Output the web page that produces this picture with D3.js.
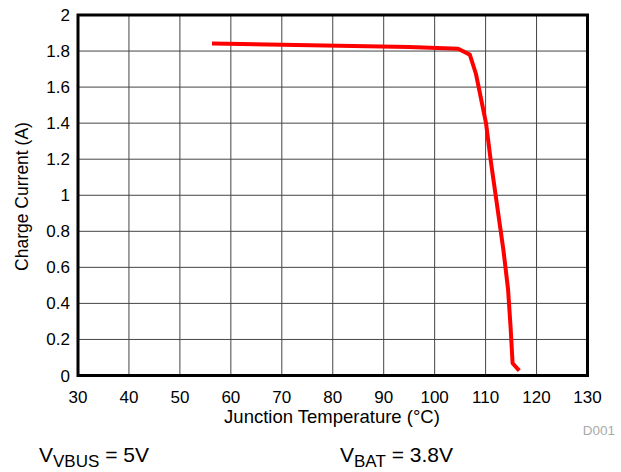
<!DOCTYPE html>
<html>
<head>
<meta charset="utf-8">
<script src="https://cdn.jsdelivr.net/npm/d3@7"></script>
<style>
  body { margin: 0; background: #fff; }
  text { font-family: "Liberation Sans", Arial, sans-serif; }
</style>
</head>
<body>
<svg width="621" height="472"></svg>
<script>
'use strict';

// junction temperature (°C) vs charge current (A)
const temps = [56.3, 95, 104.6, 106.9, 108.1, 110.1, 111, 113.5, 114.4, 114.9, 115.3, 116.6];
const amps = [1.842, 1.822, 1.813, 1.78, 1.674, 1.397, 1.194, 0.695, 0.48, 0.27, 0.068, 0.027];

const xTicks = [30, 40, 50, 60, 70, 80, 90, 100, 110, 120, 130];
const yTicks = [0, 0.2, 0.4, 0.6, 0.8, 1, 1.2, 1.4, 1.6, 1.8, 2];

const svg = d3.select('svg');

const pLeft = 78, pRight = 587.5, pTop = 15, pBottom = 375.5;

const x = d3.scaleLinear().domain([30, 130]).range([pLeft, pRight]);
const y = d3.scaleLinear().domain([0, 2]).range([pBottom, pTop]);

// grid
svg.append('g')
    .selectAll('line')
    .data(xTicks)
    .enter()
    .append('line')
        .attr('x1', d => x(d)).attr('x2', d => x(d))
        .attr('y1', pTop).attr('y2', pBottom)
        .attr('stroke', '#444')
        .attr('stroke-width', 1);

svg.append('g')
    .selectAll('line')
    .data(yTicks)
    .enter()
    .append('line')
        .attr('x1', pLeft).attr('x2', pRight)
        .attr('y1', d => y(d)).attr('y2', d => y(d))
        .attr('stroke', '#444')
        .attr('stroke-width', 1);

// frame
svg.append('rect')
    .attr('x', pLeft).attr('y', pTop)
    .attr('width', pRight - pLeft).attr('height', pBottom - pTop)
    .attr('fill', 'none')
    .attr('stroke', '#000')
    .attr('stroke-width', 3);

// tick labels
svg.append('g')
    .selectAll('text')
    .data(xTicks)
    .enter()
    .append('text')
        .attr('x', d => x(d))
        .attr('y', 403)
        .attr('text-anchor', 'middle')
        .attr('font-size', 17)
        .text(d => d);

svg.append('g')
    .selectAll('text')
    .data(yTicks)
    .enter()
    .append('text')
        .attr('x', 70)
        .attr('y', d => y(d) + 6)
        .attr('text-anchor', 'end')
        .attr('font-size', 17)
        .text(d => d);

// titles
svg.append('text')
    .attr('x', 332)
    .attr('y', 423)
    .attr('text-anchor', 'middle')
    .attr('font-size', 18.5)
    .text('Junction Temperature (°C)');

svg.append('text')
    .attr('transform', `translate(28, 196.5) rotate(-90)`)
    .attr('text-anchor', 'middle')
    .attr('font-size', 17.5)
    .text('Charge Current (A)');

svg.append('text')
    .attr('x', 615)
    .attr('y', 435)
    .attr('text-anchor', 'end')
    .attr('font-size', 13.5)
    .attr('fill', '#aaa')
    .text('D001');

// data line
const line = d3.line()
    .x((d, i) => x(temps[i]))
    .y(d => y(d));

svg.append('path')
    .datum(amps)
    .attr('d', line)
    .attr('fill', 'none')
    .attr('stroke', '#ff0000')
    .attr('stroke-width', 4)
    .attr('stroke-linejoin', 'round');

// conditions
const conds = [
  {x: 39, main: 'V', sub: 'VBUS', rest: ' = 5V'},
  {x: 340, main: 'V', sub: 'BAT', rest: ' = 3.8V'}
];

const cond = svg.append('g')
    .selectAll('text')
    .data(conds)
    .enter()
    .append('text')
        .attr('x', d => d.x)
        .attr('y', 462)
        .attr('font-size', 21);

cond.append('tspan').text(d => d.main);
cond.append('tspan').attr('dy', 4.5).attr('font-size', 17).text(d => d.sub);
cond.append('tspan').attr('dy', -4.5).text(d => d.rest);
</script>
</body>
</html>
